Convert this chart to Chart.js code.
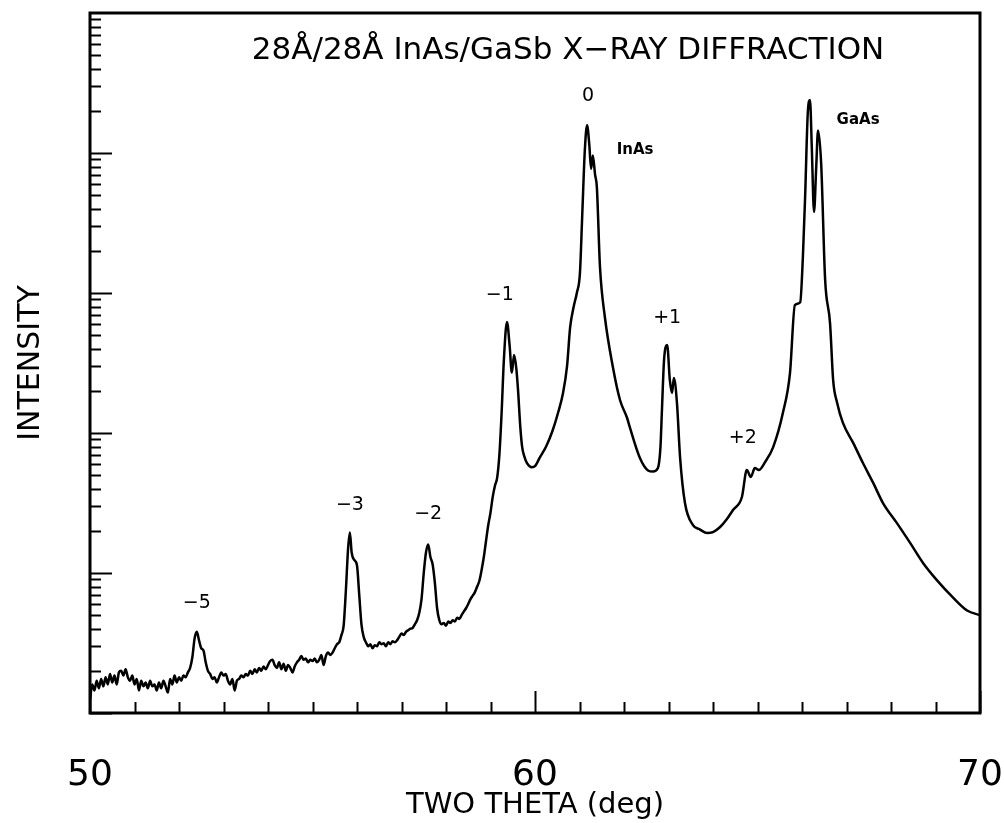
<!DOCTYPE html>
<html>
<head>
<meta charset="utf-8">
<script src="https://cdn.jsdelivr.net/npm/chart.js@4.4.1/dist/chart.umd.min.js"></script>
<style>
  html, body { margin: 0; padding: 0; background: #fff; }
  #wrap { width: 1004px; height: 823px; }
</style>
</head>
<body>
<div id="wrap"><canvas id="xrdChart" width="1004" height="823"></canvas></div>
<script>
// 28A/28A InAs/GaSb superlattice x-ray scan
const twoTheta = [
  50.00, 50.05, 50.10, 50.15, 50.20, 50.25, 50.30, 50.35, 50.40, 50.45,
  50.50, 50.55, 50.60, 50.65, 50.70, 50.75, 50.80, 50.85, 50.90, 50.95,
  51.00, 51.05, 51.10, 51.15, 51.20, 51.25, 51.30, 51.35, 51.40, 51.45,
  51.50, 51.55, 51.60, 51.65, 51.70, 51.75, 51.80, 51.85, 51.90, 51.95,
  52.00, 52.05, 52.10, 52.15, 52.20, 52.25, 52.30, 52.35, 52.40, 52.45,
  52.50, 52.55, 52.60, 52.65, 52.70, 52.75, 52.80, 52.85, 52.90, 52.95,
  53.00, 53.05, 53.10, 53.15, 53.20, 53.25, 53.30, 53.35, 53.40, 53.45,
  53.50, 53.55, 53.60, 53.65, 53.70, 53.75, 53.80, 53.85, 53.90, 53.95,
  54.00, 54.05, 54.10, 54.15, 54.20, 54.25, 54.30, 54.35, 54.40, 54.45,
  54.50, 54.55, 54.60, 54.65, 54.70, 54.75, 54.80, 54.85, 54.90, 54.95,
  55.00, 55.05, 55.10, 55.15, 55.20, 55.25, 55.30, 55.35, 55.40, 55.45,
  55.50, 55.55, 55.60, 55.65, 55.70, 55.75, 55.80, 55.84, 55.88, 55.93,
  56.00, 56.05, 56.10, 56.15, 56.20, 56.25, 56.30, 56.35, 56.40, 56.45,
  56.50, 56.55, 56.60, 56.65, 56.70, 56.75, 56.80, 56.85, 56.90, 56.95,
  57.00, 57.05, 57.10, 57.15, 57.20, 57.25, 57.30, 57.35, 57.40, 57.45,
  57.50, 57.55, 57.60, 57.65, 57.70, 57.75, 57.80, 57.85, 57.90, 57.95,
  58.00, 58.05, 58.10, 58.15, 58.20, 58.25, 58.30, 58.35, 58.40, 58.45,
  58.50, 58.55, 58.60, 58.65, 58.70, 58.75, 58.80, 58.85, 58.90, 58.95,
  59.00, 59.05, 59.10, 59.15, 59.20, 59.25, 59.30, 59.37, 59.43, 59.48,
  59.53, 59.58, 59.62, 59.67, 59.71, 59.76, 59.82, 59.93, 60.00, 60.11,
  60.25, 60.40, 60.52, 60.63, 60.72, 60.79, 60.87, 60.94, 61.01, 61.06,
  61.12, 61.17, 61.22, 61.26, 61.30, 61.35, 61.39, 61.46, 61.57, 61.75,
  61.91, 62.07, 62.13, 62.36, 62.54, 62.65, 62.76, 62.82, 62.85, 62.90,
  62.97, 63.03, 63.08, 63.12, 63.19, 63.26, 63.37, 63.55, 63.70, 63.87,
  64.00, 64.16, 64.30, 64.45, 64.65, 64.76, 64.85, 64.94, 65.03, 65.17,
  65.35, 65.57, 65.73, 65.84, 65.96, 66.02, 66.07, 66.13, 66.18, 66.22,
  66.27, 66.32, 66.36, 66.43, 66.52, 66.63, 66.70, 66.79, 66.92, 67.15,
  67.37, 67.60, 67.82, 68.13, 68.43, 68.72, 69.03, 69.39, 69.71, 70.00
]
const intensity = [
  1.25, 1.6, 1.45, 1.7, 1.5, 1.75, 1.55, 1.8, 1.6, 1.9,
  1.65, 1.85, 1.6, 1.95, 2.0, 1.85, 2.05, 1.8, 1.7, 1.85,
  1.6, 1.75, 1.45, 1.7, 1.55, 1.65, 1.5, 1.7, 1.55, 1.6,
  1.45, 1.65, 1.5, 1.7, 1.55, 1.4, 1.75, 1.6, 1.85, 1.65,
  1.8, 1.7, 1.85, 1.8, 1.95, 2.1, 2.5, 3.4, 3.8, 3.3,
  2.9, 2.8, 2.3, 2.0, 1.9, 1.75, 1.8, 1.65, 1.8, 1.95,
  1.85, 1.9, 1.7, 1.6, 1.75, 1.45, 1.7, 1.75, 1.85, 1.8,
  1.9, 1.85, 2.0, 1.9, 2.05, 1.95, 2.1, 2.0, 2.15, 2.05,
  2.2, 2.35, 2.4, 2.2, 2.1, 2.3, 2.05, 2.25, 2.0, 2.2,
  2.1, 1.95, 2.15, 2.3, 2.4, 2.55, 2.4, 2.45, 2.3, 2.4,
  2.35, 2.45, 2.3, 2.4, 2.6, 2.2, 2.55, 2.7, 2.6, 2.7,
  2.9, 3.1, 3.2, 3.6, 4.2, 7.5, 15, 19.5, 14, 12.5,
  11.3, 7.0, 4.3, 3.5, 3.2, 3.0, 3.1, 2.9, 3.05, 3.0,
  3.2, 3.1, 3.15, 3.0, 3.2, 3.1, 3.25, 3.2, 3.3, 3.5,
  3.7, 3.6, 3.8, 3.9, 4.0, 4.05, 4.3, 4.6, 5.2, 6.5,
  10, 14, 16, 13, 11.5, 8.5, 5.6, 4.6, 4.3, 4.4,
  4.2, 4.5, 4.4, 4.6, 4.5, 4.8, 4.7, 5.0, 5.3, 5.6,
  6.0, 6.5, 6.9, 7.3, 8.0, 8.8, 10.5, 13, 17, 22,
  27, 35, 42, 48, 70, 140, 330, 620, 420, 270,
  360, 290, 200, 110, 80, 68, 61, 57, 58, 67,
  80, 105, 140, 193, 300, 570, 800, 1000, 1390, 3490,
  10500, 15800, 11500, 7700, 9600, 7000, 5700, 1540, 674, 296,
  172, 128, 110, 66, 54, 53, 56, 80, 139, 332,
  425, 239, 193, 247, 164, 67, 31.6, 22, 20.5, 19.3,
  19.6, 21.3, 24, 28.2, 34.9, 54.4, 48.5, 56.2, 54.4, 62,
  79, 139, 268, 820, 860, 1810, 4850, 19300, 23900, 11000,
  3790, 8000, 14500, 8480, 1240, 610, 239, 164, 118, 85,
  61, 44, 31.6, 22.8, 16.4, 11.8, 8.9, 6.7, 5.4, 5.0
]

// peak annotations (position in data units)
const peakText = ['\u22125', '\u22123', '\u22122', '\u22121', '0', 'InAs', '+1', '+2', 'GaAs']
const peakX = [52.40, 55.84, 57.60, 59.21, 61.19, 62.25, 62.97, 64.67, 67.26]
const peakY = [6.1, 30.6, 26.5, 968, 25500, 10500, 663, 92, 17200]

const xMin = 50
const xMax = 70
const xLabelTicks = [50, 60, 70]
const yDecades = [1, 10, 100, 1000, 10000]

const FONT = "'DejaVu Sans', sans-serif"

const inwardTicks = {
  id: 'inwardTicks',
  afterDatasetsDraw(chart) {
    const { ctx, chartArea: a, scales: { x, y } } = chart
    ctx.save()
    ctx.strokeStyle = '#000'
    ctx.lineWidth = 2

    // bottom axis: minor every degree, long at the labelled ones
    for (let v = xMin; v <= xMax; v++) {
      const px = Math.round(x.getPixelForValue(v)) + 0.5
      const len = xLabelTicks.includes(v) ? 22 : 11
      ctx.beginPath()
      ctx.moveTo(px, a.bottom)
      ctx.lineTo(px, a.bottom - len)
      ctx.stroke()
    }

    // left axis: log decades with 2..9 minors
    yDecades.forEach(dec => {
      for (let d = 1; d <= 9; d++) {
        const py = Math.round(y.getPixelForValue(d * dec)) + 0.5
        const len = d === 1 ? 22 : 11
        ctx.beginPath()
        ctx.moveTo(a.left, py)
        ctx.lineTo(a.left + len, py)
        ctx.stroke()
      }
    })

    // frame
    ctx.lineWidth = 3
    ctx.strokeRect(a.left, a.top, a.right - a.left, a.bottom - a.top)

    // title sits inside the frame
    ctx.fillStyle = '#000'
    ctx.textAlign = 'center'
    ctx.textBaseline = 'middle'
    ctx.font = '31px ' + FONT
    ctx.fillText('28\u00c5/28\u00c5 InAs/GaSb X\u2212RAY DIFFRACTION', (a.left + a.right) / 2 + 33, a.top + 38)

    // peak labels
    peakText.forEach((t, i) => {
      const isPhase = t.length > 2
      ctx.font = isPhase ? 'bold 15px ' + FONT : '19px ' + FONT
      ctx.fillText(t, x.getPixelForValue(peakX[i]), y.getPixelForValue(peakY[i]))
    })
    ctx.restore()
  }
}

const points = twoTheta.map((t, i) => ({ x: t, y: intensity[i] }))

// eslint-disable-next-line no-undef
new Chart(document.getElementById('xrdChart').getContext('2d'), {
  type: 'line',
  data: {
    datasets: [{
      label: 'Intensity',
      data: points,
      borderColor: '#000',
      borderWidth: 2.5,
      borderJoinStyle: 'round',
      pointRadius: 0,
      cubicInterpolationMode: 'monotone',
      fill: false
    }]
  },
  options: {
    responsive: false,
    devicePixelRatio: 1,
    animation: false,
    layout: { padding: { top: 13, right: 24, left: 0, bottom: 0 } },
    plugins: {
      legend: { display: false },
      tooltip: { enabled: false }
    },
    scales: {
      x: {
        type: 'linear',
        min: xMin,
        max: xMax,
        grid: { display: false },
        border: { display: false },
        ticks: {
          stepSize: 10,
          padding: 33,
          color: '#000',
          font: { family: FONT, size: 36 },
          maxRotation: 0
        },
        title: {
          display: true,
          text: 'TWO THETA (deg)',
          color: '#000',
          font: { family: FONT, size: 29 },
          padding: { top: 0, bottom: 0 }
        },
        afterFit: scale => {
          scale.height = 110
          scale.paddingLeft = 0
          scale.paddingRight = 0
        }
      },
      y: {
        type: 'logarithmic',
        min: 1,
        max: 100000,
        grid: { display: false },
        border: { display: false },
        ticks: { display: false },
        title: {
          display: true,
          text: 'INTENSITY',
          color: '#000',
          font: { family: FONT, size: 30 },
          padding: { top: 13, bottom: 0 }
        },
        afterFit: scale => { scale.width = 90 }
      }
    }
  },
  plugins: [inwardTicks]
})
</script>
</body>
</html>
